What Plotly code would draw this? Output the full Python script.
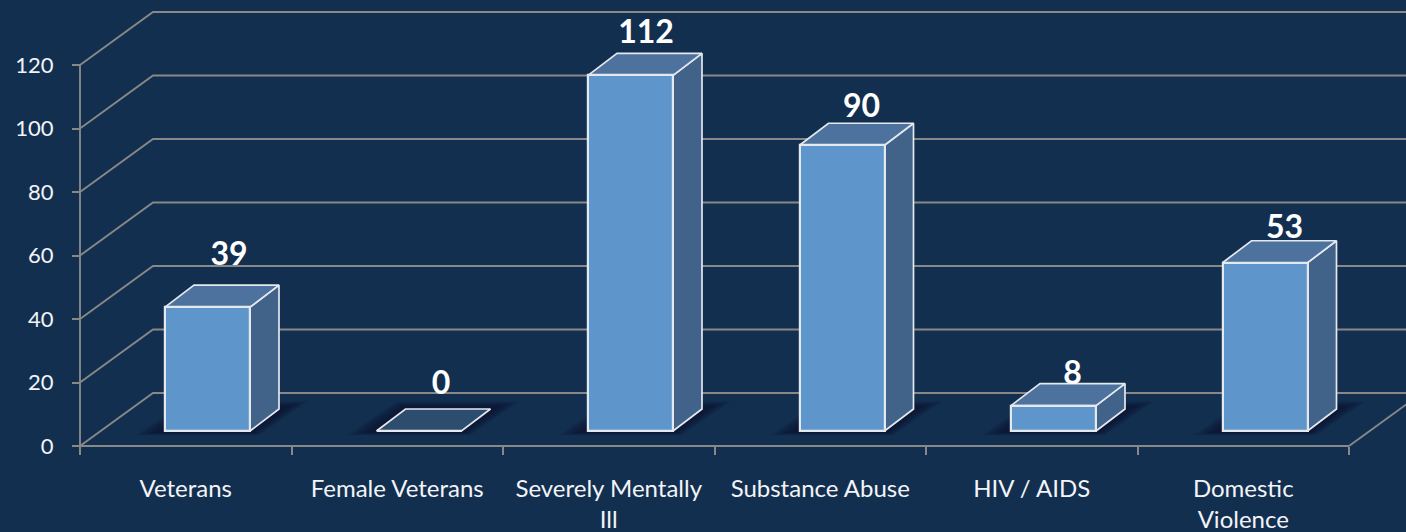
import plotly.graph_objects as go

categories = ["Veterans", "Female Veterans", "Severely Mentally<br>Ill", "Substance Abuse", "HIV / AIDS", "Domestic<br>Violence"]
values = [39, 0, 112, 90, 8, 53]
y_ticks = [0, 20, 40, 60, 80, 100, 120]

# layout geometry, in axis units
W, H = 1406, 532
AX_L, AX_B = 80, 86
PX = 1 / 211.5
PY = 120 / 381
WALL_DX, WALL_DY = 73 * PX, 53 * PY
DEPTH_DX, DEPTH_DY = 29 * PX, 22 * PY
BAR_START, BAR_W = 85 * PX, 85 * PX
FLOOR = 15 * PY
LABEL_DX = [21.5, 22, 15.5, 19.5, 19, 19.5]
LABEL_DY = [50, 45, 40, 36, 30, 33]

BG = "#132F4F"
GRID = "#888888"
FRONT = "#5E96CB"
TOP = "#4D729D"
SIDE = "#426389"
ZERO_TOP = "#2C4D6E"
EDGE = "#E4E9EF"
TEXT = "#F2F4F7"
FONT = "Lato"

n = len(categories)
x_range = [-AX_L * PX, (W - AX_L) * PX]
y_range = [-AX_B * PY, (H - AX_B) * PY]
fig = go.Figure()

# axis lines, back wall grid lines and wall diagonals
gx, gy = [0, 0, None, 0, n, None], [0, 120, None, 0, 0, None]
for t in y_ticks:
    gx += [0, WALL_DX, n + WALL_DX, None]
    gy += [t, t + WALL_DY, t + WALL_DY, None]
gx += [n, n + WALL_DX]
gy += [0, WALL_DY]
fig.add_trace(go.Scatter(x=gx, y=gy, mode="lines", hoverinfo="skip",
                         line=dict(color=GRID, width=1.9), showlegend=False))

# soft floor shadows
for i in range(n):
    x0 = i + BAR_START
    x1 = x0 + BAR_W
    for k in range(14, 0, -1):
        ex, e_bot, e_top = k * 2.1 * PX, k * 0.3 * PY, k * 0.55 * PY
        fig.add_trace(go.Scatter(
            x=[x0 - ex, x1 + ex * 0.3, x1 + DEPTH_DX + ex, x0 + DEPTH_DX - ex * 0.3, x0 - ex],
            y=[FLOOR - e_bot, FLOOR - e_bot, FLOOR + DEPTH_DY + e_top, FLOOR + DEPTH_DY + e_top, FLOOR - e_bot],
            mode="lines", fill="toself", fillcolor="rgba(8,20,36,0.07)", line=dict(width=0),
            hoverinfo="skip", showlegend=False))

# bar side and top faces
for i, v in enumerate(values):
    x0 = i + BAR_START
    x1 = x0 + BAR_W
    b = FLOOR
    t = FLOOR + v
    if v > 0:
        fig.add_trace(go.Scatter(
            x=[x1, x1 + DEPTH_DX, x1 + DEPTH_DX, x1, x1],
            y=[b, b + DEPTH_DY, t + DEPTH_DY, t, b],
            mode="lines", fill="toself", fillcolor=SIDE, line=dict(color=EDGE, width=1.7),
            hoverinfo="skip", showlegend=False))
    fig.add_trace(go.Scatter(
        x=[x0, x1, x1 + DEPTH_DX, x0 + DEPTH_DX, x0],
        y=[t, t, t + DEPTH_DY, t + DEPTH_DY, t],
        mode="lines", fill="toself", fillcolor=TOP if v > 0 else ZERO_TOP,
        line=dict(color=EDGE, width=1.7),
        hoverinfo="skip", showlegend=False))

# bar front faces on the overlay axes, so they sit above the shadows
fig.add_trace(go.Bar(
    x=[i + BAR_START + BAR_W / 2 for i in range(n)],
    y=values, base=[FLOOR] * n, width=BAR_W,
    marker=dict(color=FRONT, line=dict(color=EDGE, width=2.2)),
    xaxis="x2", yaxis="y2", showlegend=False,
    hovertemplate="%{y}<extra></extra>"))

# value labels
fig.add_trace(go.Scatter(
    x=[i + BAR_START + BAR_W / 2 + LABEL_DX[i] * PX for i in range(n)],
    y=[FLOOR + v + LABEL_DY[i] * PY for i, v in enumerate(values)],
    mode="text", text=[str(v) for v in values], textposition="middle center",
    textfont=dict(family=FONT, size=32, color="#FFFFFF", weight="bold"),
    xaxis="x2", yaxis="y2", hoverinfo="skip", showlegend=False))

fig.update_layout(
    width=W, height=H,
    margin=dict(l=0, r=0, t=0, b=0, pad=0),
    paper_bgcolor=BG, plot_bgcolor=BG,
    font=dict(family=FONT, size=22, color=TEXT),
    showlegend=False, bargap=0,
    xaxis=dict(range=x_range, anchor="free", position=AX_B / H,
               tickvals=list(range(n + 1)), showticklabels=False,
               ticks="outside", ticklen=8, tickwidth=1.7, tickcolor=GRID,
               showline=False, showgrid=False, zeroline=False, automargin=False),
    yaxis=dict(range=y_range, anchor="free", position=AX_L / W,
               tickvals=y_ticks, ticks="outside", ticklen=8, tickwidth=1.7,
               tickcolor=GRID, showline=False, showgrid=False,
               zeroline=False, automargin=False, ticklabelstandoff=14,
               tickfont=dict(family=FONT, size=22, color=TEXT)),
    xaxis2=dict(range=x_range, overlaying="x", anchor="free", position=AX_B / H, side="bottom",
                tickvals=[i + 0.5 for i in range(n)], ticktext=categories, tickangle=0,
                ticks="", showgrid=False, zeroline=False, showline=False, automargin=False,
                ticklabelstandoff=26, tickfont=dict(family=FONT, size=24, color=TEXT)),
    yaxis2=dict(range=y_range, overlaying="y", visible=False, showgrid=False, zeroline=False),
)

fig.write_html("out.html", config={"displayModeBar": False},
               post_script="document.body.style.margin='0';document.body.style.background='%s';" % BG)
